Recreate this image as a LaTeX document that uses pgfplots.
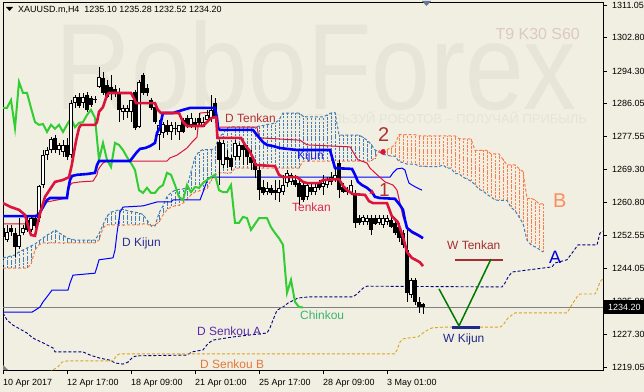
\documentclass[border=0pt]{standalone}
\usepackage{pgfplots}
\pgfplotsset{compat=1.18}
\usepackage{pgfplotstable}
\usepackage{fontspec}
\setmainfont{Liberation Sans}
\definecolor{bgc}{RGB}{240,239,225}
\definecolor{wm}{RGB}{230,229,215}
\definecolor{wmt}{RGB}{229,228,214}
\definecolor{tenk}{RGB}{220,20,60}
\definecolor{kij}{RGB}{0,0,255}
\definecolor{chk}{RGB}{50,205,50}
\definecolor{sa}{RGB}{70,125,180}
\definecolor{sb}{RGB}{250,125,75}
\definecolor{dsa}{RGB}{0,0,128}
\definecolor{dsb}{RGB}{218,165,32}
\definecolor{pline}{RGB}{128,128,128}
\definecolor{ldt}{RGB}{178,48,58}
\definecolor{lt}{RGB}{222,40,80}
\definecolor{lk}{RGB}{30,30,240}
\definecolor{ldk}{RGB}{45,45,150}
\definecolor{lch}{RGB}{60,180,110}
\definecolor{ldsa}{RGB}{90,40,170}
\definecolor{ldsb}{RGB}{228,120,60}
\definecolor{lw}{RGB}{165,45,50}
\definecolor{lwk}{RGB}{35,40,140}
\definecolor{la}{RGB}{0,0,215}
\definecolor{lb}{RGB}{255,140,90}
\definecolor{lnum}{RGB}{170,50,50}
\definecolor{lset}{RGB}{222,200,195}
\definecolor{vgreen}{RGB}{0,120,0}
\definecolor{trig}{RGB}{100,120,150}

\pgfplotstableread{
i o h l c
0 1254.4 1255.9 1251.3 1252.1
1 1251.3 1255.2 1250.8 1253.4
2 1254.4 1255.2 1252.4 1253.4
3 1253.1 1254.4 1247.0 1249.6
4 1249.6 1256.9 1249.0 1252.6
5 1253.1 1255.2 1252.6 1254.4
6 1256.4 1257.7 1253.4 1253.9
7 1253.9 1257.2 1253.4 1256.9
8 1256.9 1257.7 1254.4 1254.9
9 1256.9 1265.3 1255.9 1265.1
10 1265.3 1274.2 1264.6 1272.9
11 1272.9 1275.0 1271.7 1274.2
12 1274.2 1277.5 1273.4 1277.0
13 1277.3 1278.0 1273.4 1274.2
14 1274.2 1276.0 1272.9 1275.5
15 1273.7 1276.7 1272.4 1275.5
16 1275.5 1277.3 1271.7 1272.4
17 1272.9 1286.9 1272.2 1286.1
18 1286.1 1288.2 1284.9 1287.7
19 1287.7 1288.7 1284.9 1285.4
20 1286.1 1288.7 1284.9 1287.7
21 1288.2 1288.9 1283.9 1284.4
22 1287.4 1287.9 1285.1 1285.6
23 1287.2 1287.9 1286.1 1287.0
24 1290.2 1295.3 1290.0 1292.8
25 1292.5 1294.0 1288.2 1288.7
26 1290.7 1292.0 1287.4 1287.7
27 1290.2 1293.3 1286.9 1288.7
28 1289.7 1290.7 1287.7 1288.7
29 1288.9 1290.0 1281.3 1284.4
30 1283.9 1285.6 1281.8 1284.9
31 1283.9 1285.6 1282.3 1284.9
32 1283.9 1286.9 1281.3 1286.9
33 1288.9 1289.4 1279.3 1279.8
34 1280.0 1292.0 1279.8 1291.5
35 1293.3 1293.8 1288.2 1288.7
36 1290.0 1291.0 1287.9 1288.7
37 1286.9 1287.4 1284.4 1284.9
38 1285.1 1286.1 1280.8 1281.3
39 1278.0 1281.8 1274.2 1280.6
40 1278.5 1281.3 1277.3 1280.8
41 1280.6 1281.8 1278.0 1278.8
42 1278.8 1281.3 1276.7 1280.6
43 1279.8 1281.3 1278.0 1279.6
44 1278.8 1280.6 1276.7 1280.6
45 1281.8 1282.3 1278.5 1278.8
46 1282.3 1283.1 1279.8 1280.6
47 1280.6 1283.6 1279.8 1282.3
48 1281.3 1282.3 1279.3 1280.0
49 1282.3 1283.6 1280.6 1281.1
50 1280.0 1282.6 1280.0 1281.3
51 1281.8 1284.4 1281.3 1283.1
52 1282.3 1288.2 1281.3 1284.4
53 1286.1 1287.4 1282.3 1282.4
54 1276.2 1276.7 1265.3 1271.7
55 1270.4 1276.7 1269.6 1276.0
56 1272.4 1274.2 1269.6 1271.7
57 1272.2 1272.9 1269.1 1269.9
58 1272.4 1276.7 1271.7 1276.0
59 1272.4 1276.0 1271.7 1275.5
60 1275.5 1276.7 1270.4 1274.2
61 1274.7 1275.5 1270.4 1272.4
62 1272.4 1274.2 1269.1 1270.9
63 1270.9 1271.7 1267.1 1269.1
64 1269.1 1270.4 1261.5 1264.0
65 1264.8 1266.6 1262.8 1263.3
66 1263.5 1266.1 1262.8 1264.6
67 1264.6 1265.3 1262.8 1263.3
68 1264.0 1266.6 1261.5 1263.3
69 1263.3 1266.6 1261.0 1264.6
70 1263.5 1267.9 1262.8 1265.3
71 1265.8 1269.1 1264.8 1268.4
72 1266.1 1268.4 1265.3 1267.9
73 1266.6 1267.9 1264.8 1265.3
74 1265.8 1266.6 1260.2 1262.3
75 1265.3 1266.1 1261.0 1261.5
76 1262.3 1265.8 1261.5 1265.3
77 1264.8 1265.8 1262.8 1263.5
78 1263.5 1265.8 1262.8 1264.8
79 1265.8 1266.6 1264.0 1264.6
80 1264.8 1267.9 1262.8 1265.8
81 1265.3 1267.3 1264.6 1266.6
82 1266.1 1268.6 1265.3 1267.3
83 1266.6 1269.6 1266.1 1267.9
84 1270.9 1271.7 1262.0 1264.0
85 1264.8 1265.8 1263.3 1263.5
86 1264.0 1264.8 1262.8 1263.5
87 1263.3 1266.6 1262.8 1265.3
88 1263.3 1264.0 1254.4 1255.7
89 1256.9 1257.7 1255.2 1255.7
90 1255.9 1257.7 1255.2 1257.2
91 1255.9 1257.7 1255.2 1256.9
92 1256.9 1257.7 1252.6 1253.9
93 1256.9 1257.7 1255.2 1255.4
94 1255.7 1257.7 1255.2 1256.9
95 1255.2 1257.7 1254.4 1256.9
96 1255.9 1257.7 1255.2 1256.9
97 1256.4 1257.7 1254.4 1254.6
98 1255.7 1256.4 1252.6 1253.1
99 1254.6 1255.7 1250.8 1251.8
100 1253.1 1253.9 1249.3 1250.1
101 1248.8 1253.9 1235.6 1237.9
102 1237.4 1241.7 1236.6 1241.2
103 1241.2 1241.7 1234.8 1235.6
104 1235.6 1236.9 1232.8 1234.3
105 1235.10 1235.28 1232.52 1234.20
}\candles

\pgfplotstableread{
i A B
0 1246.8 1244.2
1 1247.0 1244.2
2 1247.3 1244.2
3 1247.5 1244.2
4 1248.3 1244.2
5 1248.8 1244.2
6 1249.3 1244.2
7 1249.8 1245.2
8 1250.3 1248.8
9 1251.1 1250.1
10 1251.8 1250.6
11 1252.6 1250.6
12 1253.1 1250.6
13 1253.9 1250.6
14 1253.1 1250.6
15 1252.6 1250.6
16 1251.8 1250.6
17 1251.6 1250.6
18 1251.3 1250.6
19 1251.3 1250.6
20 1251.3 1250.6
21 1251.3 1250.6
22 1251.3 1250.6
23 1251.3 1250.6
24 1252.9 1251.3
25 1255.2 1254.4
26 1257.4 1255.2
27 1258.4 1255.2
28 1258.7 1255.2
29 1259.0 1255.2
30 1259.1 1255.2
31 1258.8 1255.2
32 1258.6 1255.2
33 1258.4 1255.2
34 1258.2 1255.2
35 1257.8 1255.4
36 1256.4 1255.4
37 1255.0 1254.9
38 1254.9 1255.2
39 1258.2 1255.9
40 1260.0 1257.7
41 1262.4 1259.0
42 1263.3 1259.7
43 1264.0 1260.0
44 1264.2 1260.2
45 1264.3 1260.7
46 1264.7 1261.7
47 1268.7 1262.8
48 1272.3 1263.5
49 1273.8 1263.8
50 1274.3 1264.0
51 1274.3 1264.3
52 1274.3 1266.6
53 1274.5 1267.9
54 1277.6 1268.4
55 1278.3 1268.4
56 1279.8 1268.4
57 1280.1 1268.4
58 1280.1 1269.6
59 1280.1 1269.6
60 1280.1 1269.6
61 1280.1 1269.6
62 1280.1 1269.6
63 1279.9 1269.6
64 1280.3 1269.6
65 1280.4 1269.6
66 1280.7 1269.6
67 1280.8 1269.6
68 1281.1 1269.6
69 1281.8 1269.6
70 1283.6 1269.6
71 1283.6 1269.6
72 1283.6 1269.6
73 1283.6 1269.6
74 1283.6 1269.6
75 1282.8 1271.4
76 1282.6 1271.4
77 1282.6 1271.4
78 1282.6 1271.4
79 1282.6 1271.4
80 1282.6 1271.4
81 1283.1 1271.4
82 1283.6 1271.4
83 1283.7 1271.4
84 1278.0 1271.4
85 1278.0 1271.4
86 1278.0 1271.4
87 1278.0 1271.4
88 1278.0 1271.4
89 1278.0 1271.4
90 1277.4 1271.4
91 1276.7 1271.4
92 1275.7 1271.4
93 1274.2 1272.2
94 1273.7 1274.0
95 1273.2 1274.3
96 1272.8 1274.3
97 1272.7 1274.8
98 1272.6 1275.6
99 1271.3 1278.1
100 1271.0 1278.1
101 1270.6 1278.1
102 1270.6 1278.1
103 1270.6 1278.1
104 1270.1 1277.8
105 1270.1 1277.8
106 1270.0 1277.8
107 1270.0 1277.8
108 1270.0 1277.8
109 1270.0 1277.8
110 1270.4 1277.8
111 1269.6 1277.8
112 1269.6 1277.8
113 1268.2 1277.8
114 1268.2 1277.1
115 1267.3 1277.0
116 1266.8 1277.0
117 1266.3 1277.0
118 1265.4 1274.1
119 1264.2 1274.1
120 1263.8 1274.1
121 1262.9 1274.1
122 1262.3 1273.2
123 1261.5 1273.2
124 1261.4 1273.2
125 1261.4 1271.8
126 1261.4 1270.4
127 1259.6 1270.4
128 1258.8 1270.4
129 1257.2 1269.5
130 1255.5 1268.7
131 1251.3 1261.9
132 1250.1 1261.9
133 1249.6 1261.5
134 1249.0 1260.5
135 1248.3 1260.5
}\cloud

\begin{document}
\begin{tikzpicture}
\fill[bgc] (-3bp,-22bp) rectangle (641bp,370bp);
% watermark
\node[text=wm, anchor=base west, inner sep=0pt, font=\fontsize{123}{123}\selectfont] at (52bp,260bp) {\scalebox{0.86}[1]{RoboForex}};
\node[text=wmt, anchor=base east, inner sep=0pt, font=\fontsize{13}{13}\selectfont] at (584bp,246bp) {ИСПОЛЬЗУЙ РОБОТОВ – ПОЛУЧАЙ ПРИБЫЛЬ};

\begin{axis}[
  at={(0bp,0bp)}, anchor=south west,
  scale only axis, width=600bp, height=367bp,
  xmin=0, xmax=150, ymin=1218.30, ymax=1311.56,
  clip mode=individual,
  axis line style={black, line width=1bp},
  xtick={0,16,32,48,64,80,96},
  xticklabels={10 Apr 2017,12 Apr 17:00,18 Apr 09:00,21 Apr 01:00,25 Apr 17:00,28 Apr 09:00,3 May 01:00},
  ytick={1311.05,1302.80,1294.30,1286.05,1277.55,1269.30,1260.80,1252.55,1244.05,1235.80,1227.30,1219.05},
  yticklabels={1311.05,1302.80,1294.30,1286.05,1277.55,1269.30,1260.80,1252.55,1244.05,1235.80,1227.30,1219.05},
  xtick pos=bottom, ytick pos=right, yticklabel pos=right,
  tick align=outside, major tick length=4bp,
  tick style={black, line width=0.8bp},
  ticklabel style={font=\fontsize{9}{10}\selectfont, text=black},
  yticklabel style={anchor=west, inner sep=0pt, xshift=5bp},
  xticklabel style={anchor=north west, inner sep=0pt, yshift=-5bp},
  /pgf/number format/assume math mode=true,
]
% cloud hatch
\addplot[draw=none, mark=none, restrict expr to domain={\thisrow{A}-\thisrow{B}}{0:1000},
  error bars/.cd, y dir=both, y explicit, error mark=none,
  error bar style={draw=sa, line width=1bp, dash pattern=on 2.5bp off 1.2bp}]
  table[x=i, y expr={(\thisrow{A}+\thisrow{B})/2}, y error expr={abs(\thisrow{A}-\thisrow{B})/2}] {\cloud};
\addplot[draw=none, mark=none, restrict expr to domain={\thisrow{A}-\thisrow{B}}{-1000:0},
  error bars/.cd, y dir=both, y explicit, error mark=none,
  error bar style={draw=sb, line width=1bp, dash pattern=on 2.5bp off 1.2bp}]
  table[x=i, y expr={(\thisrow{A}+\thisrow{B})/2}, y error expr={abs(\thisrow{A}-\thisrow{B})/2}] {\cloud};
\addplot[sa, line width=1bp, dash pattern=on 3bp off 2bp] table[x=i, y=A] {\cloud};
\addplot[sb, line width=1bp, dash pattern=on 3bp off 2bp] table[x=i, y=B] {\cloud};

% daily senkou
\addplot[dsa, line width=0.9bp, dash pattern=on 3bp off 2bp] coordinates {(0,1232.8) (1,1231.0) (2.5,1229.7) (4.25,1228.7) (6,1227.7) (7.5,1226.4) (10,1225.2) (12.5,1223.9) (13,1222.9) (20,1222.9) (21.75,1222.1) (24.25,1221.3) (26.75,1220.8) (28,1220.1) (30,1219.8) (31.25,1220.3) (32.5,1221.6) (33.5,1221.9) (46,1222.1) (47.25,1222.9) (50,1223.4) (51,1224.7) (51.75,1225.4) (52.5,1225.9) (57.5,1226.7) (61.75,1227.2) (66,1227.7) (66.75,1229.0) (67.5,1231.0) (68.5,1233.5) (70,1234.3) (71.25,1235.3) (73.75,1236.6) (76.75,1236.9) (87.5,1236.9) (88.5,1237.6) (90,1239.1) (91,1239.6) (124.75,1239.4) (125.5,1240.4) (126.25,1241.9) (127.25,1243.2) (137.25,1244.5) (138,1245.5) (141,1246.3) (142.25,1248.0) (143.75,1250.1) (148.5,1250.1) (149.25,1253.1) (150,1253.5)};
\addplot[dsb, line width=0.9bp, dash pattern=on 3bp off 2bp] coordinates {(10.5,1217.0) (12.5,1218.3) (13.75,1219.1) (14.75,1220.3) (16,1220.6) (27.5,1220.6) (28,1221.4) (28.5,1222.1) (29.25,1222.4) (98,1222.4) (98.5,1223.4) (99.25,1225.4) (100,1226.2) (101,1226.4) (103.75,1226.7) (105,1227.7) (106.25,1228.5) (107.25,1229.0) (110,1229.2) (124.25,1229.2) (125,1229.7) (126.25,1231.5) (127.25,1232.3) (128,1232.8) (141,1232.8) (141.75,1234.1) (142.5,1235.3) (143.5,1236.9) (144.25,1237.6) (148,1237.6) (148.5,1238.6) (149.25,1240.7) (150,1241.5)};

% current price
\addplot[pline, line width=1bp] coordinates {(0,1234.2) (150,1234.2)};

% daily kijun / tenkan
\addplot[kij, line width=1bp] coordinates {(0,1233.0) (7.25,1233.0) (8.5,1233.8) (9.25,1234.3) (10,1235.6) (11,1236.9) (12.25,1238.6) (16.25,1238.6) (16.75,1240.4) (17.5,1242.4) (23,1242.9) (23.5,1244.5) (24,1246.3) (27.5,1246.8) (28,1248.8) (28.5,1253.1) (29.25,1258.4) (30,1259.7) (35,1260.0) (38.5,1261.0) (42,1261.0) (42.5,1261.5) (49.25,1261.5) (50,1263.5) (51.25,1267.1) (52.5,1267.3) (96.75,1267.3) (97.5,1268.4) (98.5,1269.4) (99.75,1269.6) (100.5,1269.1) (101,1267.3) (101.5,1265.8) (102.25,1265.3) (103.5,1264.6) (104.75,1264.0)};
\addplot[tenk, line width=1bp] coordinates {(0,1255.4) (6.25,1255.4) (6.75,1255.7) (7.5,1257.2) (8.5,1257.9) (10,1260.2) (11,1261.0) (16,1262.0) (16.25,1263.5) (16.75,1265.3) (17.25,1265.8) (19.25,1266.1) (22.5,1266.3) (23.5,1267.9) (23.75,1269.1) (24.25,1269.9) (25,1270.9) (26,1271.4) (41,1271.4) (41.75,1272.2) (43.5,1272.9) (46,1274.7) (47.25,1276.2) (48.5,1277.5) (48.75,1280.0) (49.25,1283.6) (53,1283.9) (53.5,1280.0) (63.5,1280.0) (64,1277.3) (74.25,1276.7) (76,1275.5) (86.75,1275.0) (88,1272.9) (88.75,1271.7) (91,1270.9) (91.75,1269.6) (93,1268.4) (95.5,1266.1) (97.5,1265.3) (98.5,1264.0) (99.25,1260.7) (100,1257.2) (101,1254.6) (102.25,1253.1) (105,1251.8)};

% chinkou = close shifted back 30 bars
\addplot[chk, line width=2bp] table[x expr=\thisrow{i}-30, y=c] {\candles};

% candles
\addplot[draw=none, mark=none,
  error bars/.cd, y dir=both, y explicit, error mark=none,
  error bar style={draw=black, line width=1bp, solid}]
  table[x=i, y expr={(\thisrow{h}+\thisrow{l})/2}, y error expr={(\thisrow{h}-\thisrow{l})/2}] {\candles};
\addplot[draw=none, mark=none,
  error bars/.cd, y dir=both, y explicit, error mark=none,
  error bar style={draw=black, line width=3.2bp, solid}]
  table[x=i, y expr={(\thisrow{o}+\thisrow{c})/2}, y error expr={max(abs(\thisrow{o}-\thisrow{c})/2,0.13)}] {\candles};
\addplot[draw=none, mark=none, restrict expr to domain={\thisrow{c}-\thisrow{o}}{0.6:1000},
  error bars/.cd, y dir=both, y explicit, error mark=none,
  error bar style={draw=white, line width=1.2bp, solid}]
  table[x=i, y expr={(\thisrow{o}+\thisrow{c})/2}, y error expr={(\thisrow{c}-\thisrow{o})/2-0.25}] {\candles};

% H4 kijun / tenkan
\addplot[kij, line width=2.6bp] coordinates {(0,1257.4) (8.75,1257.4) (9.25,1258.4) (10,1259.7) (11,1261.5) (11.75,1262.0) (16,1262.0) (16.25,1264.0) (16.75,1266.6) (17.25,1267.6) (18.5,1267.9) (21,1268.1) (23,1268.4) (23.5,1270.4) (24,1271.4) (31.75,1271.4) (32.5,1272.4) (33.5,1273.7) (34.25,1274.5) (35.5,1274.7) (36.75,1275.2) (38,1276.0) (38.5,1278.5) (39.25,1280.0) (39.75,1282.6) (40,1283.6) (42.5,1283.6) (45,1284.4) (46.75,1284.9) (53,1284.9) (53.5,1282.3) (53.75,1279.8) (54.25,1279.3) (62.5,1279.3) (63.5,1278.0) (65,1276.2) (66,1275.5) (67.5,1275.2) (69.25,1274.7) (73.5,1274.2) (81.75,1274.2) (82.25,1272.4) (83,1269.6) (87.25,1269.4) (88,1267.9) (88.75,1266.1) (89.75,1265.3) (91,1264.6) (92.25,1263.5) (93,1262.3) (94.25,1262.0) (98,1261.8) (99.25,1260.2) (100,1259.0) (100.5,1256.4) (101,1254.4) (102.25,1253.4) (103.75,1252.6) (105,1251.8)};
\addplot[tenk, line width=2.6bp] coordinates {(0,1260.7) (2,1259.7) (4,1259.0) (5.5,1257.7) (6.2,1255.2) (7,1252.6) (8,1252.4) (8.7,1255.7) (9.3,1258.2) (10.5,1262.3) (12,1264.6) (13,1266.1) (15,1266.6) (16.5,1267.3) (17.2,1270.4) (17.7,1273.4) (18.3,1276.7) (19,1279.8) (19.5,1280.6) (23,1280.6) (23.5,1281.3) (24,1283.9) (25,1285.1) (26,1288.2) (26.5,1288.7) (32,1288.7) (32.7,1287.4) (33.3,1286.1) (38,1286.1) (38.7,1284.4) (39.5,1283.6) (44,1283.6) (45,1281.3) (46,1280.3) (50,1280.3) (51,1281.3) (52,1282.3) (53.3,1282.6) (53.6,1277.3) (59.5,1277.3) (60.5,1275.5) (61.5,1274.2) (62.5,1272.2) (63.2,1270.4) (68,1270.1) (69,1267.9) (70,1267.3) (73.5,1267.3) (75,1266.1) (76,1265.8) (79,1265.8) (80,1266.6) (84,1266.8) (85,1265.1) (86,1264.0) (87.5,1263.0) (90.5,1262.8) (91.5,1261.2) (92.5,1260.7) (96,1260.7) (97.2,1257.4) (98.7,1255.9) (100,1252.1) (101,1248.3) (102.2,1246.8) (104.2,1245.7) (105,1244.7)};

% weekly levels and projection
\addplot[lw, line width=2bp] coordinates {(113,1246.25) (125,1246.25)};
\addplot[lwk, line width=2.5bp] coordinates {(112.25,1229.1) (119.25,1229.1)};
\addplot[vgreen, line width=1.5bp] coordinates {(109,1238.9) (114,1229.5) (122,1246.5)};

% cross markers
\addplot[tenk, only marks, mark=*, mark size=2.5bp] coordinates {(95,1273.7)};
\addplot[tenk, only marks, mark=triangle*, mark size=2.5bp] coordinates {(92.25,1263.5)};
\end{axis}

% labels
\begin{scope}[every node/.style={anchor=base west, inner sep=0pt, font=\fontsize{12}{12}\selectfont}]
\node[text=ldt] at (222bp,247bp) {D Tenkan};
\node[text=lk] at (294bp,210bp) {Kijun};
\node[text=lt] at (289bp,158bp) {Tenkan};
\node[text=ldk] at (119bp,123bp) {D Kijun};
\node[text=lch] at (297bp,50bp) {Chinkou};
\node[text=ldsa] at (194bp,35bp) {D Senkou A};
\node[text=ldsb] at (197bp,2bp) {D Senkou B};
\node[text=lw] at (444bp,120bp) {W Tenkan};
\node[text=lwk] at (440bp,28bp) {W Kijun};
\node[text=la, font=\fontsize{18}{18}\selectfont] at (546bp,106bp) {A};
\node[text=lb, font=\fontsize{20}{20}\selectfont] at (550bp,162bp) {B};
\node[text=lnum, font=\fontsize{19}{19}\selectfont] at (376bp,173bp) {1};
\node[text=lnum, font=\fontsize{20}{20}\selectfont] at (375bp,228bp) {2};
\node[text=lset, anchor=base east, font=\fontsize{16}{16}\selectfont] at (577bp,330bp) {T9 K30 S60};
\node[text=black, font=\fontsize{9}{10}\selectfont] at (15bp,357bp) {XAUUSD.m,H4\ \ 1235.10 1235.28 1232.52 1234.20};
\end{scope}
\fill[black] (3bp,363bp) -- (10bp,363bp) -- (6.5bp,359bp) -- cycle;
\fill[trig] (419bp,369bp) -- (428bp,369bp) -- (423.5bp,364bp) -- cycle;
\fill[gray] (0bp,0bp) -- (5bp,0bp) -- (0bp,5bp) -- cycle;
% current price box
\fill[black] (601bp,56bp) rectangle (641bp,70bp);
\node[text=white, anchor=base west, inner sep=0pt, font=\fontsize{9}{10}\selectfont] at (605bp,59.5bp) {1234.20};
\pgfresetboundingbox
\path[use as bounding box] (-3bp,-22bp) rectangle (641bp,370bp);
\end{tikzpicture}
\end{document}
